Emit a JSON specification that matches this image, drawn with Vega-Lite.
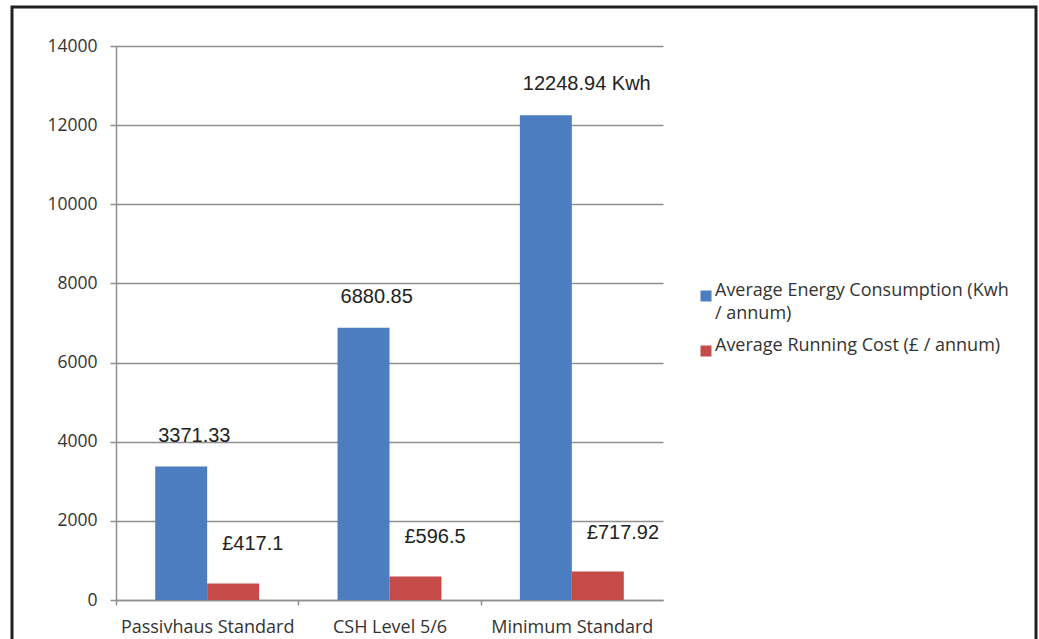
{
  "$schema": "https://vega.github.io/schema/vega-lite/v6.json",
  "width": 1024,
  "height": 640,
  "autosize": {"type": "none"},
  "padding": {"left": 12, "top": 7, "right": 3, "bottom": 0},
  "background": "white",
  "config": {
    "view": {"stroke": "#231f20", "strokeWidth": 3, "fill": "white"},
    "font": "Open Sans"
  },
  "data": {
    "values": [
      {"standard": "Passivhaus Standard", "series": "Average Energy Consumption (Kwh / annum)", "value": 3371.33, "label": "3371.33"},
      {"standard": "Passivhaus Standard", "series": "Average Running Cost (£ / annum)", "value": 417.1, "label": "£417.1"},
      {"standard": "CSH Level 5/6", "series": "Average Energy Consumption (Kwh / annum)", "value": 6880.85, "label": "6880.85"},
      {"standard": "CSH Level 5/6", "series": "Average Running Cost (£ / annum)", "value": 596.5, "label": "£596.5"},
      {"standard": "Minimum Standard", "series": "Average Energy Consumption (Kwh / annum)", "value": 12248.94, "label": "12248.94 Kwh"},
      {"standard": "Minimum Standard", "series": "Average Running Cost (£ / annum)", "value": 717.92, "label": "£717.92"}
    ]
  },
  "encoding": {
    "x": {
      "field": "standard",
      "type": "nominal",
      "sort": ["Passivhaus Standard", "CSH Level 5/6", "Minimum Standard"],
      "scale": {"range": [104, 651], "paddingInner": 0.43, "paddingOuter": 0.215},
      "axis": {
        "title": null,
        "orient": "bottom",
        "offset": -47,
        "labelAngle": 0,
        "grid": false,
        "domainColor": "#8f8f8f",
        "domainWidth": 1.5,
        "tickColor": "#8f8f8f",
        "tickWidth": 1.5,
        "tickSize": 5,
        "bandPosition": 0.5,
        "tickOffset": -91.17,
        "labelOffset": 91.17,
        "labelPadding": 13,
        "labelFont": "Open Sans",
        "labelFontSize": 18,
        "labelColor": "#333333",
        "labelLimit": 300
      }
    },
    "xOffset": {
      "field": "series",
      "type": "nominal",
      "scale": {"paddingInner": 0, "paddingOuter": 0}
    },
    "y": {
      "field": "value",
      "type": "quantitative",
      "scale": {"domain": [0, 14000], "range": [593, 39], "nice": false},
      "axis": {
        "title": null,
        "values": [0, 2000, 4000, 6000, 8000, 10000, 12000, 14000],
        "offset": -104,
        "grid": true,
        "gridColor": "#8f8f8f",
        "gridWidth": 1.5,
        "domainColor": "#8f8f8f",
        "domainWidth": 1.5,
        "tickColor": "#8f8f8f",
        "tickWidth": 1.5,
        "tickSize": 6,
        "labelPadding": 13,
        "labelFont": "Open Sans",
        "labelFontSize": 17.5,
        "labelColor": "#333333",
        "format": "d"
      }
    }
  },
  "layer": [
    {
      "mark": {"type": "bar"},
      "encoding": {
        "color": {
          "field": "series",
          "type": "nominal",
          "scale": {
            "domain": ["Average Energy Consumption (Kwh / annum)", "Average Running Cost (£ / annum)"],
            "range": ["#4b7dc0", "#c44b47"]
          },
          "legend": {
            "orient": "none",
            "legendX": 685,
            "legendY": 280,
            "title": null,
            "padding": 0,
            "symbolType": "square",
            "symbolSize": 121,
            "symbolStrokeWidth": 0,
            "labelFont": "Open Sans",
            "labelFontSize": 18,
            "labelColor": "#333333",
            "labelOffset": 0,
            "labelLimit": 400,
            "labelBaseline": "alphabetic",
            "rowPadding": 14,
            "labelExpr": "indexof(datum.label, 'Energy') >= 0 ? ['Average Energy Consumption (Kwh', '/ annum)'] : datum.label",
            "encode": {"labels": {"update": {"lineHeight": {"value": 23}}}}
          }
        }
      }
    },
    {
      "transform": [{"filter": "indexof(datum.series, 'Energy') >= 0"}],
      "mark": {"type": "text", "align": "left", "baseline": "alphabetic", "dx": -23, "dy": -25, "font": "Liberation Sans", "fontSize": 20, "color": "#222222"},
      "encoding": {"text": {"field": "label"}}
    },
    {
      "transform": [{"filter": "indexof(datum.series, 'Running') >= 0"}],
      "mark": {"type": "text", "align": "left", "baseline": "alphabetic", "dx": -11, "dy": -33, "font": "Liberation Sans", "fontSize": 20, "color": "#222222"},
      "encoding": {"text": {"field": "label"}}
    }
  ]
}
